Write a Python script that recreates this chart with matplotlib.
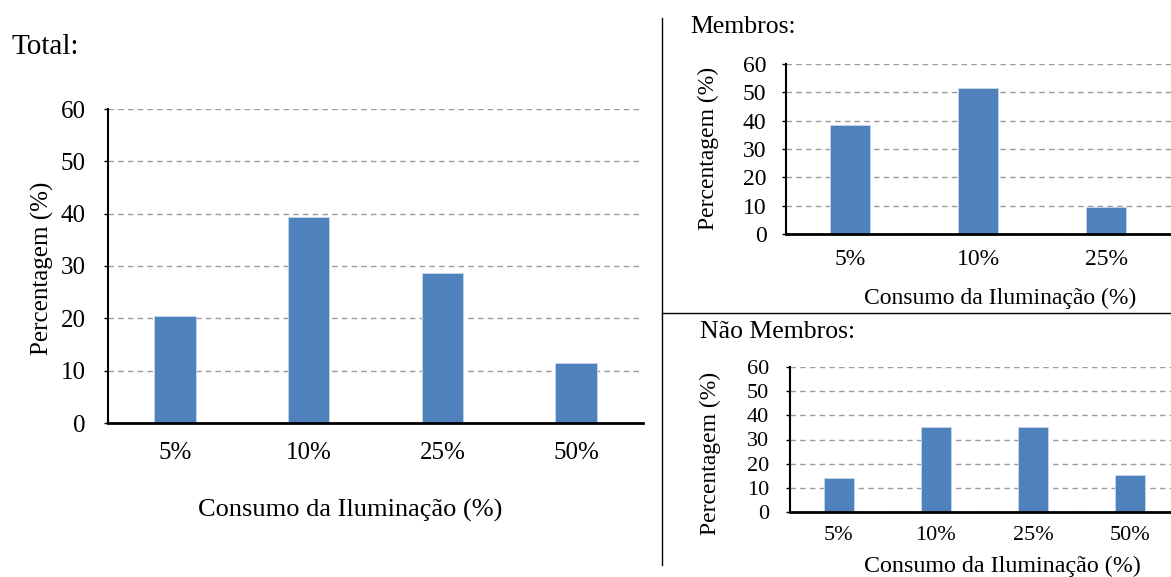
import matplotlib
matplotlib.use("Agg")
import matplotlib.pyplot as plt
import numpy as np

plt.rcParams['font.family'] = ['Liberation Serif', 'DejaVu Serif']

# dados
categorias = ['5%', '10%', '25%', '50%']
total = [20.4, 39.4, 28.7, 11.5]
membros = [38.5, 51.5, 9.5]          # 4ª categoria fica cortada na imagem
nao_membros = [14.0, 35.2, 35.2, 15.3]

W, H = 1171, 577
AZUL = '#4F81BD'
xlab = 'Consumo da Iluminação (%)'
ylab = 'Percentagem (%)'

fig = plt.figure(figsize=(W / 100, H / 100), dpi=100)


def caixa(l, t, r, b):
    # pixels (topo-esquerda) -> coordenadas da figura
    return [l / W, 1 - b / H, (r - l) / W, (b - t) / H]


def desenha(ax, valores, fs_tick, ypad, xpad):
    x = np.arange(len(valores))
    ax.bar(x, valores, width=0.31, color=AZUL, edgecolor='#c9d7ea', linewidth=0.6, zorder=3)
    ax.set_xlim(-0.5, len(categorias) - 0.5)
    ax.set_ylim(0, 60)
    ax.set_yticks(range(0, 61, 10))
    ax.set_xticks(x)
    ax.set_xticklabels(categorias[:len(valores)])
    ax.tick_params(axis='x', length=0, pad=xpad, labelsize=fs_tick)
    ax.tick_params(axis='y', length=3, width=1, pad=ypad, labelsize=fs_tick, direction='out')
    ax.grid(axis='y', color='#9c9c9c', linestyle=(0, (4, 3)), linewidth=1, zorder=0)
    ax.spines['top'].set_visible(False)
    ax.spines['right'].set_visible(False)
    ax.spines['left'].set_linewidth(1.5)
    ax.spines['bottom'].set_linewidth(2)
    ax.spines['bottom'].set_zorder(4)


# Total
ax1 = fig.add_axes(caixa(108, 109, 643, 423))
desenha(ax1, total, 18, 13, 14)
fig.text(12 / W, 1 - 47 / H, 'Total:', fontsize=21, va='center', ha='left')
fig.text(350 / W, 1 - 510 / H, xlab, fontsize=19, ha='center', va='center')
fig.text(42 / W, 1 - 268 / H, ylab, fontsize=18, ha='center', va='center', rotation=90)

# Membros (cortado à direita)
ax2 = fig.add_axes(caixa(786, 64, 1298, 234))
desenha(ax2, membros, 17, 11, 11)
fig.text(690 / W, 1 - 27 / H, 'Membros:', fontsize=18.5, va='center', ha='left')
fig.text(1000 / W, 1 - 298 / H, xlab, fontsize=17, ha='center', va='center')
fig.text(708 / W, 1 - 148 / H, ylab, fontsize=17, ha='center', va='center', rotation=90)

# Não membros
ax3 = fig.add_axes(caixa(790, 367, 1179, 512))
desenha(ax3, nao_membros, 16, 12, 10)
fig.text(700 / W, 1 - 332 / H, 'Não Membros:', fontsize=18.5, va='center', ha='left')
fig.text(1002 / W, 1 - 566 / H, xlab, fontsize=17.3, ha='center', va='center')
fig.text(710 / W, 1 - 453 / H, ylab, fontsize=17, ha='center', va='center', rotation=90)

# linhas separadoras
fig.add_artist(plt.Line2D([662 / W, 662 / W], [1 - 18 / H, 1 - 565 / H], color='black', linewidth=1))
fig.add_artist(plt.Line2D([662 / W, 1], [1 - 313 / H, 1 - 313 / H], color='black', linewidth=1))

fig.savefig('out.png', dpi=100)
